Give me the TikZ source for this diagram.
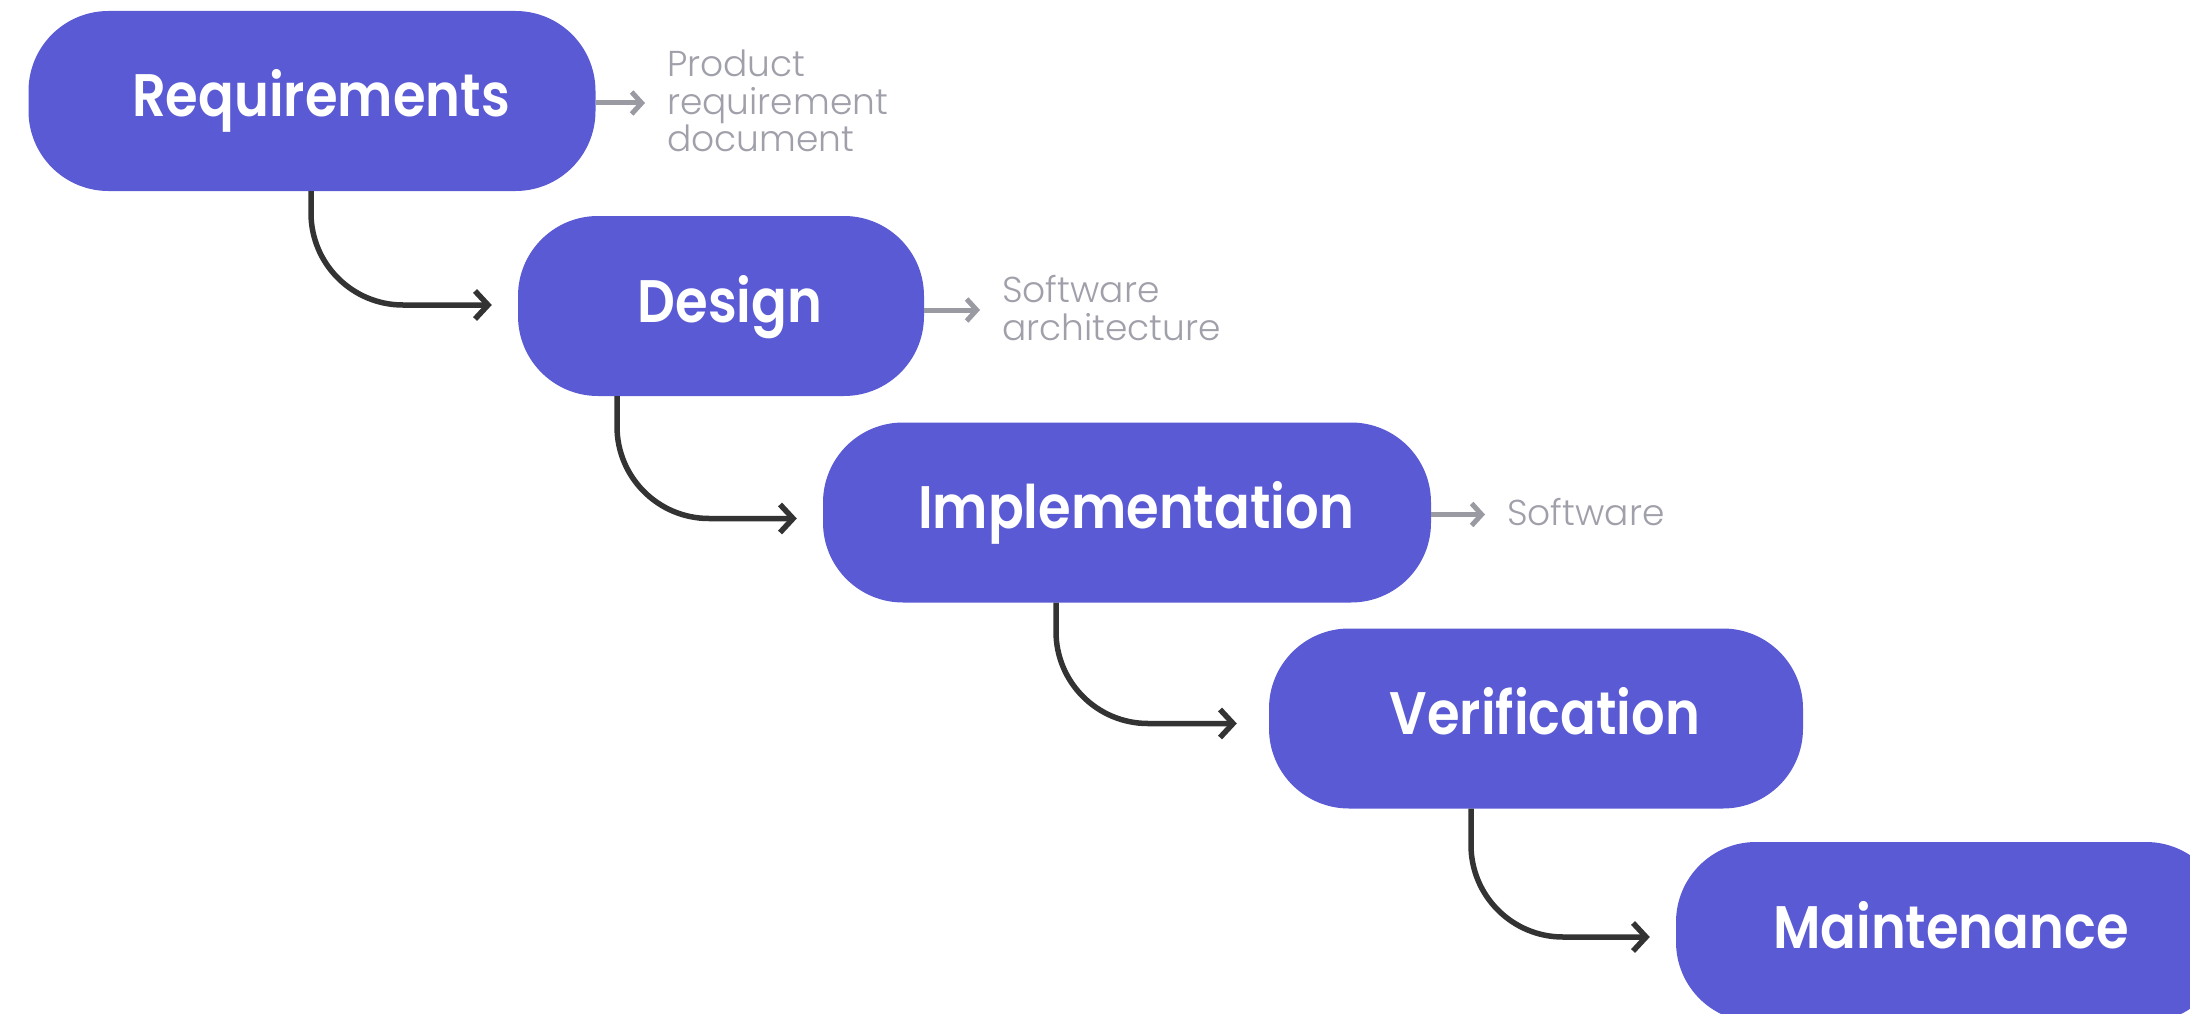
\documentclass[tikz,border=0pt]{standalone}
\usepackage{fontspec}
\setmainfont{Poppins}
\newfontfamily\pillfont{Poppins SemiBold}[FakeStretch=0.88]
\newfontfamily\greyfont{Poppins Light}
\usetikzlibrary{arrows.meta,calc}
\definecolor{pillblue}{HTML}{5A5AD5}
\definecolor{labelgrey}{HTML}{A0A0AA}
\definecolor{arrowgrey}{HTML}{9A9AA2}
\definecolor{flowdark}{HTML}{333333}
\begin{document}
\begin{tikzpicture}[x=1pt,y=-1pt,
  pill/.style={fill=pillblue, rounded corners=80pt, text=white,
    font=\pillfont\fontsize{60}{70}\selectfont, minimum height=180pt,
    inner sep=0pt, text height=44pt, text depth=12pt},
  shifted/.style={execute at begin node={\hspace*{18pt}}},
  outlabel/.style={anchor=base west, text=labelgrey,
    font=\greyfont\fontsize{36}{37.5}\selectfont, align=left, inner sep=0pt},
  outarrow/.style={draw=arrowgrey, line width=5pt, shorten >=22pt,
    -{Straight Barb[length=10pt,width=22pt,line width=5pt]}},
  flow/.style={draw=flowdark, line width=5.5pt, rounded corners=92pt,
    -{Straight Barb[length=13pt,width=28pt,line width=5.5pt]}}]
\useasboundingbox (0,0) rectangle (2190,1014);
\clip (0,0) rectangle (2190,1014);
\fill[white] (0,0) rectangle (2190,1014);

\node[pill, shifted, minimum width=567pt] (req) at (312,101) {Requirements};
\node[pill, shifted, minimum width=406pt] (des) at (721,306) {Design};
\node[pill, shifted, minimum width=608pt] (imp) at (1127,512.5) {Implementation};
\node[pill, shifted, minimum width=534pt] (ver) at (1536,718.5) {Verification};
\node[pill, minimum width=550pt] (mai) at (1951,932) {Maintenance};

\node[outlabel] (reqlab) at (667,152) {Product\\requirement\\document};
\node[outlabel] (deslab) at (1002,340) {Software\\architecture};
\node[outlabel] (implab) at (1507,525) {Software};

\draw[outarrow] ([yshift=-2pt]req.east) -- ([yshift=-2pt]req.east -| reqlab.west);
\draw[outarrow] ([yshift=-4pt]des.east) -- ([yshift=-4pt]des.east -| deslab.west);
\draw[outarrow] ([yshift=-2pt]imp.east) -- ([yshift=-2pt]imp.east -| implab.west);

\draw[flow] ([xshift=-1pt]req.south) |- ([xshift=-26pt,yshift=1pt]des.west);
\draw[flow] ([xshift=-104pt]des.south) |- ([xshift=-26pt,yshift=-6pt]imp.west);
\draw[flow] ([xshift=-71pt]imp.south) |- ([xshift=-32pt,yshift=-5pt]ver.west);
\draw[flow] ([xshift=-65pt]ver.south) |- ([xshift=-26pt,yshift=-5pt]mai.west);
\end{tikzpicture}
\end{document}
